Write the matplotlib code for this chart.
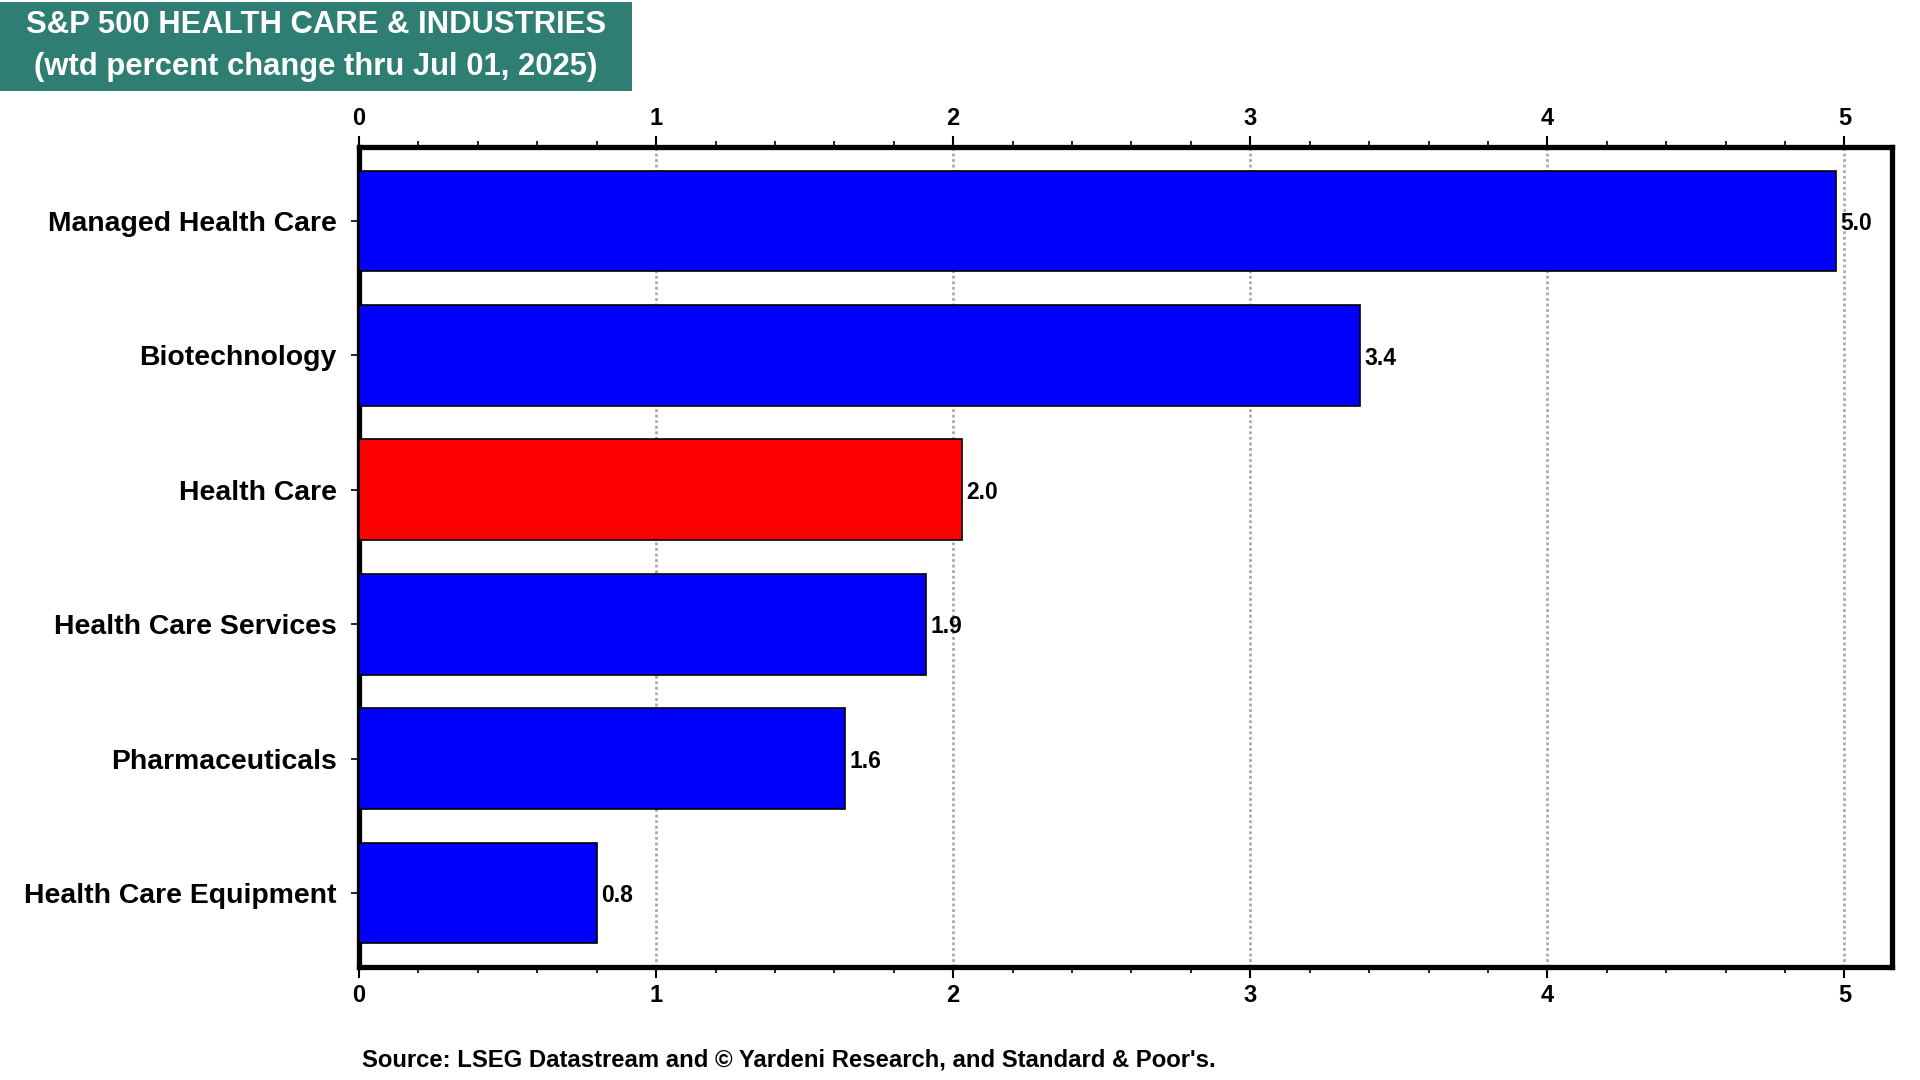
import matplotlib.pyplot as plt
from matplotlib.patches import Rectangle
from matplotlib.ticker import MultipleLocator

plt.rcParams['font.family'] = ['Liberation Sans', 'DejaVu Sans']
plt.rcParams['font.weight'] = 'bold'

categories = ['Managed Health Care', 'Biotechnology', 'Health Care',
              'Health Care Services', 'Pharmaceuticals', 'Health Care Equipment']
values = [4.97, 3.37, 2.03, 1.91, 1.635, 0.80]
labels = ['5.0', '3.4', '2.0', '1.9', '1.6', '0.8']
colors = ['#0000FF', '#0000FF', '#FF0000', '#0000FF', '#0000FF', '#0000FF']

fig = plt.figure(figsize=(19.2, 10.8), dpi=100)
ax = fig.add_axes([359 / 1920, 1 - 967 / 1080, (1892 - 359) / 1920, (967 - 147) / 1080])

ypos = list(range(len(categories)))
ax.barh(ypos, values, height=0.75, color=colors, edgecolor='black', linewidth=1.2, zorder=3)
for y, v, lab in zip(ypos, values, labels):
    ax.text(v + 0.015, y + 0.02, lab, va='center', ha='left', fontsize=16.5, fontweight='bold', zorder=4)

ax.set_yticks(ypos)
ax.set_yticklabels(categories, fontsize=20.4, fontweight='bold')
ax.set_ylim(len(categories) - 0.45, -0.55)
ax.set_xlim(0, 5.16)

ax.xaxis.set_major_locator(MultipleLocator(1))
ax.xaxis.set_minor_locator(MultipleLocator(0.2))
ax.tick_params(axis='x', which='both', top=True, bottom=True, labeltop=True, labelbottom=True,
               direction='out', labelsize=17)
ax.tick_params(axis='x', which='major', length=8, width=1.5, pad=4)
ax.tick_params(axis='x', which='minor', length=4, width=1.2)
ax.tick_params(axis='y', which='major', length=6, width=1.2, pad=10)
for t in ax.get_xticklabels():
    t.set_fontweight('bold')

ax.grid(axis='x', which='major', color='#aaaaaa', linestyle=(0, (1, 1)), linewidth=2, zorder=0)
for s in ax.spines.values():
    s.set_linewidth(3.8)

# title box
fig.patches.append(Rectangle((0, 1 - 91 / 1080), 632 / 1920, 89 / 1080,
                             transform=fig.transFigure, facecolor='#2F7E73', edgecolor='none'))
fig.text(316 / 1920, 1 - 25 / 1080, 'S&P 500 HEALTH CARE & INDUSTRIES', color='white',
         ha='center', va='center', fontsize=22.3, fontweight='bold')
fig.text(316 / 1920, 1 - 67 / 1080, '(wtd percent change thru Jul 01, 2025)', color='white',
         ha='center', va='center', fontsize=22.3, fontweight='bold')

fig.text(362 / 1920, 1 - 1060 / 1080,
         "Source: LSEG Datastream and \u00a9 Yardeni Research, and Standard & Poor's.",
         ha='left', va='center', fontsize=17.2, fontweight='bold')

fig.savefig('out.png', dpi=100)
